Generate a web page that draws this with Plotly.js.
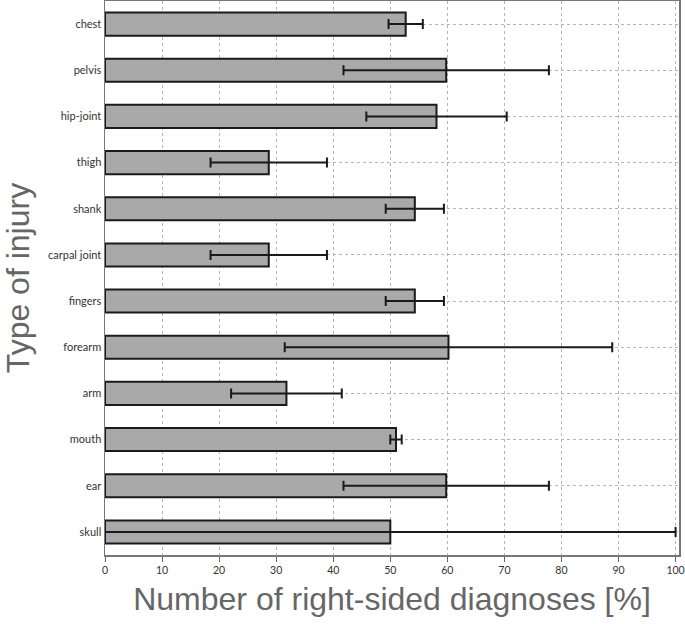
<!DOCTYPE html>
<html>
<head>
<meta charset="utf-8">
<script src="https://cdn.plot.ly/plotly-3.0.1.min.js"></script>
<style>html,body{margin:0;padding:0;background:#fff;}#chart{width:685px;height:624px;}</style>
</head>
<body>
<div id="chart"></div>
<script>
var categories = ["chest","pelvis","hip-joint","thigh","shank","carpal joint","fingers","forearm","arm","mouth","ear","skull"];
var values = [52.7, 59.8, 58.1, 28.7, 54.3, 28.7, 54.3, 60.2, 31.8, 51.0, 59.8, 50.0];
var errors = [3.0, 18.0, 12.3, 10.2, 5.1, 10.2, 5.1, 28.7, 9.7, 1.0, 18.0, 50.0];
var xTicks = [0,10,20,30,40,50,60,70,80,90,100];

var trace = {
  type: "bar",
  orientation: "h",
  y: categories,
  x: values,
  marker: {color: "#a9a9a9", line: {color: "#1a1a1a", width: 2}},
  error_x: {type: "data", array: errors, visible: true, color: "#1a1a1a", thickness: 2, width: 5},
  hoverinfo: "x+y"
};

var layout = {
  width: 685, height: 624,
  margin: {l: 105, r: 6, t: 1, b: 69},
  paper_bgcolor: "#fff", plot_bgcolor: "#fff",
  showlegend: false,
  bargap: 0.5,
  font: {family: "Lato, 'Open Sans', sans-serif", size: 10, color: "#333"},
  xaxis: {
    range: [0, 100.6],
    tickvals: xTicks,
    ticktext: xTicks.map(String),
    showgrid: true, gridcolor: "#b5b5b5", gridwidth: 1, griddash: "dot",
    zeroline: false,
    showline: true, linecolor: "#777", linewidth: 1.5, mirror: true,
    ticks: "outside", ticklen: 5, tickcolor: "#666", tickwidth: 1,
    tickfont: {family: "Lato, 'Open Sans', sans-serif", size: 10.5, color: "#333"},
    title: {text: "Number of right-sided diagnoses [%]", font: {family: "'Liberation Sans', Arial, sans-serif", size: 32, color: "#666"}, standoff: 12},
    automargin: false
  },
  yaxis: {
    type: "category",
    categoryorder: "array",
    categoryarray: categories,
    autorange: "reversed",
    showgrid: true, gridcolor: "#b5b5b5", gridwidth: 1, griddash: "dot",
    showline: true, linecolor: "#777", linewidth: 1.5, mirror: true,
    ticks: "", ticklen: 0,
    tickfont: {family: "Lato, 'Open Sans', sans-serif", size: 11, color: "#333"},
    title: {text: "Type of injury", font: {family: "'Liberation Sans', Arial, sans-serif", size: 32, color: "#666"}, standoff: 20},
    automargin: false
  }
};

Plotly.newPlot("chart", [trace], layout, {displayModeBar: false, staticPlot: true});
</script>
</body>
</html>
